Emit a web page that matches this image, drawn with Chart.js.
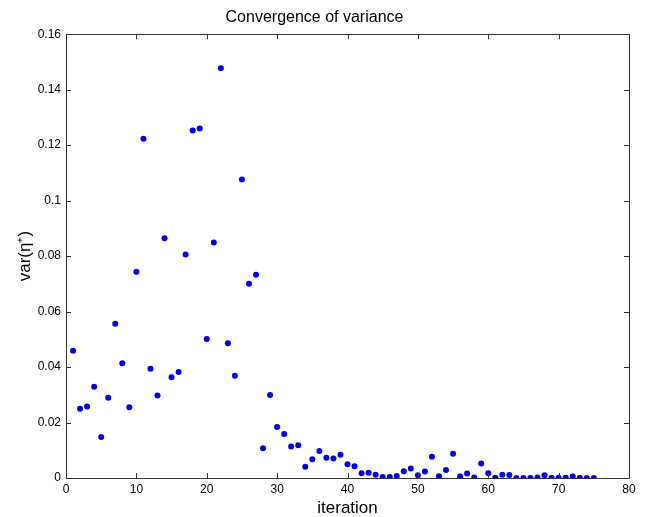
<!DOCTYPE html>
<html>
<head>
<meta charset="utf-8">
<script src="https://cdn.jsdelivr.net/npm/chart.js@4"></script>
<style>
  html, body { margin: 0; padding: 0; background: #fff; }
  canvas { display: block; }
</style>
</head>
<body>
<canvas id="varChart" width="648" height="517"></canvas>
<script>
// variance of eta+ at each iteration
const iterations = [];
for (let i = 1; i <= 75; i++) iterations.push(i);

const variance = [
  0.0459, 0.0250, 0.0258, 0.0329, 0.0148, 0.0289, 0.0556, 0.0414, 0.0255, 0.0744,
  0.1223, 0.0394, 0.0297, 0.0864, 0.0363, 0.0382, 0.0806, 0.1253, 0.1260, 0.0501,
  0.0849, 0.1477, 0.0486, 0.0369, 0.1076, 0.0700, 0.0733, 0.0107, 0.0299, 0.0184,
  0.0159, 0.0114, 0.0118, 0.0041, 0.0068, 0.0097, 0.0073, 0.0070, 0.0084, 0.0050,
  0.0042, 0.0017, 0.0019, 0.0012, 0.0004, 0.0004, 0.0007, 0.0024, 0.0034, 0.0010,
  0.0023, 0.0077, 0.0006, 0.0029, 0.0087, 0.0005, 0.0016, 0.0002, 0.0052, 0.0017,
  0.0001, 0.0012, 0.0011, 0.0000, 0.0000, 0.0000, 0.0002, 0.0010, 0.0001, 0.0001,
  0.0001, 0.0005, 0.0001, 0.0000, 0.0000
];

const xTicks = [0, 10, 20, 30, 40, 50, 60, 70, 80];
const yTicks = [0, 0.02, 0.04, 0.06, 0.08, 0.1, 0.12, 0.14, 0.16];
const yTickLabels = ['0', '0.02', '0.04', '0.06', '0.08', '0.1', '0.12', '0.14', '0.16'];

const FONT = '"Liberation Sans", Arial, sans-serif';
const AXIS_COLOR = '#333';

// box around the plot area with inward tick marks on all four sides
const boxAxes = {
  id: 'boxAxes',
  afterDatasetsDraw(chart) {
    const { ctx, chartArea: a, scales } = chart;
    const len = 5;
    ctx.save();
    ctx.strokeStyle = AXIS_COLOR;
    ctx.lineWidth = 1;
    ctx.beginPath();
    ctx.rect(Math.round(a.left) + 0.5, Math.round(a.top) + 0.5,
             Math.round(a.right - a.left), Math.round(a.bottom - a.top));
    scales.x.ticks.forEach(t => {
      const px = Math.round(scales.x.getPixelForValue(t.value)) + 0.5;
      ctx.moveTo(px, a.bottom); ctx.lineTo(px, a.bottom - len);
      ctx.moveTo(px, a.top); ctx.lineTo(px, a.top + len);
    });
    scales.y.ticks.forEach(t => {
      const py = Math.round(scales.y.getPixelForValue(t.value)) + 0.5;
      ctx.moveTo(a.left, py); ctx.lineTo(a.left + len, py);
      ctx.moveTo(a.right, py); ctx.lineTo(a.right - len, py);
    });
    ctx.stroke();
    ctx.restore();
  }
};

new Chart(document.getElementById('varChart'), {
  type: 'scatter',
  data: {
    datasets: [{
      label: 'var',
      data: iterations.map((it, i) => ({ x: it, y: variance[i] })),
      backgroundColor: '#0000e6',
      borderColor: '#0000e6',
      pointRadius: 3,
      pointHoverRadius: 3,
      borderWidth: 0
    }]
  },
  options: {
    responsive: false,
    animation: false,
    layout: { padding: { top: 0, right: 19, bottom: 0, left: 0 } },
    plugins: {
      legend: { display: false },
      tooltip: { enabled: false },
      title: {
        display: true,
        text: 'Convergence of variance',
        color: '#000',
        font: { family: FONT, size: 16, weight: 'normal' },
        padding: { top: 8, bottom: 7 }
      }
    },
    scales: {
      x: {
        type: 'linear',
        min: 0,
        max: 80,
        afterBuildTicks: s => { s.ticks = xTicks.map(v => ({ value: v })); },
        afterFit: s => { s.height = 39; },
        grid: { display: false, drawTicks: false },
        border: { display: false },
        ticks: { color: '#000', padding: 4, font: { family: FONT, size: 12 } },
        title: {
          display: true,
          text: 'iteration',
          color: '#000',
          font: { family: FONT, size: 17 },
          padding: { top: 0, bottom: -2 }
        }
      },
      y: {
        type: 'linear',
        min: 0,
        max: 0.16,
        afterBuildTicks: s => { s.ticks = yTicks.map(v => ({ value: v })); },
        afterFit: s => { s.width = 66; },
        grid: { display: false, drawTicks: false },
        border: { display: false },
        ticks: {
          color: '#000',
          padding: 5,
          font: { family: FONT, size: 12 },
          callback: (v) => yTickLabels[yTicks.indexOf(v)] ?? ''
        },
        title: {
          display: true,
          text: 'var(η⁺)',
          color: '#000',
          font: { family: FONT, size: 17 },
          padding: { top: 15, bottom: 0 }
        }
      }
    }
  },
  plugins: [boxAxes]
});
</script>
</body>
</html>
